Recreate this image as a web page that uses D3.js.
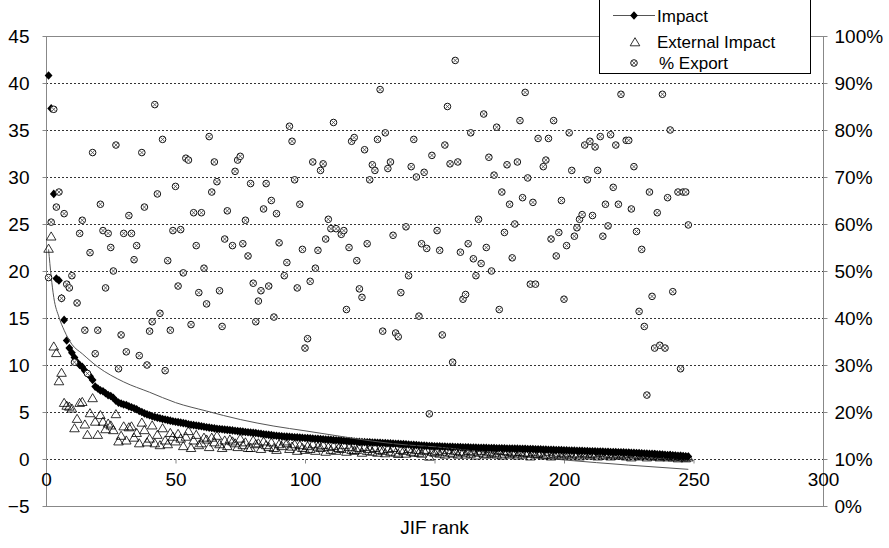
<!DOCTYPE html>
<html>
<head>
<meta charset="utf-8">
<script src="https://cdn.jsdelivr.net/npm/d3@7"></script>
<style>
body { margin: 0; background: #fff; }
text { font-family: "Liberation Sans", Arial, sans-serif; }
</style>
</head>
<body>
<svg id="chart" width="889" height="548"></svg>
<script>
// Impact per JIF rank (rank = position + 1)
var impact = [
40.8,37.3,28.2,19.2,19.0,17.1,14.8,12.6,11.8,11.3,
10.8,10.3,10.0,9.8,9.4,9.1,8.8,8.4,7.7,7.5,
7.3,7.2,7.0,6.8,6.7,6.5,6.2,6.0,5.9,5.8,
5.75,5.6,5.5,5.4,5.3,5.1,5.0,4.85,4.75,4.65,
4.55,4.47,4.4,4.33,4.26,4.2,4.14,4.08,4.02,3.97,
3.92,3.87,3.82,3.77,3.7,3.65,3.6,3.56,3.52,3.48,
3.43,3.38,3.34,3.3,3.26,3.22,3.19,3.16,3.13,3.1,
3.07,3.04,3.0,2.97,2.94,2.91,2.88,2.85,2.82,2.79,
2.76,2.72,2.68,2.64,2.6,2.57,2.54,2.5,2.47,2.44,
2.42,2.4,2.38,2.36,2.34,2.32,2.3,2.28,2.26,2.24,
2.22,2.2,2.18,2.16,2.14,2.12,2.1,2.08,2.06,2.04,
2.02,2.0,1.98,1.96,1.94,1.92,1.9,1.88,1.86,1.84,
1.82,1.81,1.79,1.78,1.77,1.76,1.75,1.73,1.72,1.7,
1.69,1.67,1.66,1.64,1.63,1.62,1.6,1.58,1.56,1.54,
1.52,1.5,1.48,1.46,1.44,1.42,1.4,1.38,1.37,1.36,
1.35,1.34,1.33,1.32,1.31,1.3,1.29,1.28,1.27,1.26,
1.25,1.24,1.24,1.23,1.22,1.21,1.2,1.2,1.19,1.18,
1.17,1.17,1.16,1.15,1.14,1.14,1.13,1.12,1.12,1.11,
1.1,1.1,1.09,1.08,1.08,1.07,1.06,1.05,1.04,1.03,
1.02,1.01,1.0,0.99,0.98,0.97,0.96,0.95,0.94,0.93,
0.92,0.91,0.9,0.89,0.88,0.87,0.86,0.85,0.84,0.83,
0.82,0.81,0.8,0.79,0.78,0.77,0.76,0.75,0.74,0.73,
0.72,0.71,0.7,0.69,0.68,0.66,0.65,0.63,0.62,0.6,
0.59,0.57,0.56,0.54,0.52,0.5,0.49,0.47,0.45,0.43,
0.41,0.39,0.37,0.35,0.33,0.31,0.29,0.26];

// External Impact per JIF rank
var externalImpact = [
22.4,23.7,12.0,11.3,8.3,9.2,6.0,5.7,5.6,5.4,
3.3,4.3,6.0,6.1,3.7,2.6,4.9,6.5,4.0,2.6,
4.7,4.0,3.2,3.8,3.6,3.1,4.8,1.9,2.5,3.5,
2.0,3.4,3.5,2.3,2.8,1.7,3.9,3.1,1.8,2.2,
3.6,1.7,2.6,1.5,3.3,2.0,1.6,2.8,2.4,1.9,
2.7,2.2,1.4,2.4,3.0,1.2,2.0,2.6,1.5,1.7,
2.3,2.1,1.3,2.3,1.8,2.5,1.6,1.2,2.0,1.4,
2.1,1.9,1.7,1.3,2.2,1.5,1.8,1.2,1.2,2.0,
1.6,1.7,1.1,1.9,1.5,1.3,1.8,1.2,1.0,1.6,
1.4,1.9,1.7,1.1,1.35,1.6,0.9,1.5,1.2,1.0,
1.4,1.1,1.6,0.9,1.35,1.2,1.5,0.8,1.3,1.0,
1.4,0.9,1.2,1.1,1.5,0.8,1.3,1.0,0.9,1.0,
1.2,0.7,1.3,0.9,1.1,0.8,1.2,0.7,1.0,0.9,
0.64,1.1,0.8,1.2,0.7,0.57,1.0,0.9,0.6,1.1,
0.8,0.7,1.0,0.7,0.6,0.9,1.0,0.28,0.8,0.7,
0.9,0.6,0.8,0.5,1.0,0.7,0.6,0.9,0.5,0.8,
0.7,0.5,0.9,0.6,0.8,0.4,0.7,0.9,0.6,0.5,
0.8,0.6,0.7,0.5,0.9,0.4,0.6,0.8,0.5,0.7,
0.6,0.4,0.8,0.5,0.7,0.6,0.3,0.8,0.5,0.6,
0.7,0.4,0.5,0.8,0.3,0.6,0.5,0.7,0.4,0.6,
0.5,0.7,0.4,0.6,0.5,0.3,0.7,0.5,0.6,0.4,
0.6,0.5,0.3,0.7,0.4,0.5,0.6,0.3,0.5,0.4,
0.6,0.4,0.5,0.3,0.6,0.2,0.4,0.5,0.3,0.4,
0.5,0.2,0.4,0.3,0.5,0.3,0.2,0.4,0.3,0.2,
0.4,0.2,0.3,0.1,0.3,0.2,0.1,0.2];

// % Export per JIF rank (secondary axis), null where not readable
var exportPct = [
48.6,60.4,84.4,63.6,66.8,44.2,62.2,47.2,46.4,49.0,
30.6,43.2,58.0,60.8,37.4,28.2,53.9,75.2,32.4,37.4,
64.2,58.6,46.4,58.0,55.0,50.0,76.8,29.2,36.4,58.0,
32.8,61.8,58.0,52.4,55.4,32.0,75.2,63.6,30.0,37.2,
39.2,85.4,66.4,41.0,78.0,28.8,52.2,37.4,58.6,68.0,
46.8,58.8,49.6,74.0,73.6,38.6,62.4,55.4,45.4,62.4,
50.6,43.0,78.6,66.8,73.2,69.0,45.8,38.2,56.8,62.8,
null,55.4,71.2,73.6,74.4,55.8,60.8,53.2,68.6,47.4,
39.2,43.6,45.8,63.2,68.6,46.8,65.0,40.2,62.2,56.0,
null,49.0,51.8,80.8,77.6,69.4,46.4,64.2,54.6,33.6,
35.6,47.8,73.2,50.6,54.4,71.4,72.8,56.8,61.0,59.0,
81.6,59.0,null,57.8,58.6,41.8,55.0,77.6,78.4,52.2,
46.2,44.4,75.8,55.8,69.4,72.6,71.4,78.0,88.6,37.2,
79.4,71.8,73.2,57.6,36.8,36.0,45.4,null,59.4,49.0,
72.2,78.0,70.0,40.4,55.8,71.0,54.8,19.6,74.6,null,
58.6,54.4,36.4,76.8,85.0,72.8,30.6,94.8,73.2,54.0,
44.0,45.0,55.8,79.4,52.6,49.0,61.0,51.6,83.4,55.0,
74.2,50.0,70.4,80.6,41.8,66.8,58.2,72.6,64.2,52.8,
60.0,73.2,82.0,65.6,88.0,69.8,47.2,64.6,47.2,78.2,
null,72.2,73.6,78.2,56.8,82.0,53.2,58.2,65.0,44.0,
55.4,79.4,71.4,57.4,59.2,61.0,62.0,76.8,69.4,77.6,
61.8,76.4,71.4,78.6,57.4,64.2,59.6,79.0,67.8,76.8,
64.2,87.6,null,77.8,77.8,63.2,72.2,58.4,41.4,54.6,
38.2,23.6,66.8,44.6,33.6,62.4,34.2,87.6,33.6,65.6,
80.0,45.6,null,66.8,29.2,66.8,66.8,59.8];

// thin curve, points
var trendRank = [1, 2, 3, 5, 7, 10, 14, 20, 30, 40, 50, 62, 75, 88, 100, 114, 126, 139, 150, 175, 200, 225, 248];
var trendValue = [22.3, 19.4, 17.2, 15.1, 13.7, 12.2, 11.2, 9.8, 8.2, 7.1, 6.0, 5.1, 4.2, 3.5, 3.0, 2.4, 1.9, 1.5, 1.3, 0.55, -0.1, -0.65, -1.1];

var xTicks = [0, 50, 100, 150, 200, 250, 300];
var leftTicks = [-5, 0, 5, 10, 15, 20, 25, 30, 35, 40, 45];
var rightTicks = [0, 10, 20, 30, 40, 50, 60, 70, 80, 90, 100];
var gridValues = [0, 5, 10, 15, 20, 25, 30, 35, 40];

var svg = d3.select("#chart");
var plotL = 46, plotR = 823, plotT = 36, plotB = 506;

var x = d3.scaleLinear().domain([0, 300]).range([plotL, plotR]);
var y = d3.scaleLinear().domain([-5, 45]).range([plotB, plotT]);
var yR = d3.scaleLinear().domain([0, 100]).range([plotB, plotT]);

// dashed gridlines
svg.append("g").selectAll("line")
	.data(gridValues)
	.enter().append("line")
	.attr("x1", plotL).attr("x2", plotR)
	.attr("y1", function(d) { return Math.round(y(d)) + 0.5; })
	.attr("y2", function(d) { return Math.round(y(d)) + 0.5; })
	.attr("stroke", "#333")
	.attr("stroke-dasharray", "2,2");

// plot frame
svg.append("rect")
	.attr("x", plotL + 0.5).attr("y", plotT + 0.5)
	.attr("width", plotR - plotL).attr("height", plotB - plotT)
	.attr("fill", "none")
	.attr("stroke", "#888");

function styleAxis(g) {
	g.select(".domain").remove();
	g.selectAll(".tick line").attr("stroke", "#888");
	g.selectAll(".tick text")
		.attr("fill", "#000")
		.style("font-size", "19px")
		.style("font-family", "'Liberation Sans', Arial, sans-serif");
}

svg.append("g")
	.attr("transform", "translate(" + (plotL + 0.5) + ",0)")
	.call(d3.axisLeft(y).tickValues(leftTicks).tickSize(4).tickPadding(13))
	.call(styleAxis);

svg.append("g")
	.attr("transform", "translate(" + (plotR + 0.5) + ",0)")
	.call(d3.axisRight(yR).tickValues(rightTicks).tickSize(4).tickPadding(7)
		.tickFormat(function(d) { return d + "%"; }))
	.call(styleAxis);

svg.append("g")
	.attr("transform", "translate(0," + (Math.round(y(0)) + 0.5) + ")")
	.call(d3.axisBottom(x).tickValues(xTicks).tickSize(4).tickPadding(9))
	.call(styleAxis);

svg.append("text")
	.attr("x", (plotL + plotR) / 2)
	.attr("y", 534)
	.attr("text-anchor", "middle")
	.style("font-size", "19px")
	.text("JIF rank");

var diamond = "M0,-4.3L3.9,0L0,4.3L-3.9,0Z",
	triangle = "M0,-4.3L4.8,3.8L-4.8,3.8Z";

// Impact
svg.append("g").selectAll("path")
	.data(impact)
	.enter().append("path")
	.attr("d", diamond)
	.attr("transform", function(d, i) { return "translate(" + x(i + 1) + "," + y(d) + ")"; })
	.attr("fill", "#000");

// thin curve
var line = d3.line()
	.x(function(d) { return x(d[0]); })
	.y(function(d) { return y(d[1]); })
	.curve(d3.curveMonotoneX);

svg.append("path")
	.datum(trendRank.map(function(r, i) { return [r, trendValue[i]]; }))
	.attr("d", line)
	.attr("fill", "none")
	.attr("stroke", "#555")
	.attr("stroke-width", 1);

// External Impact
svg.append("g").selectAll("path")
	.data(externalImpact)
	.enter().append("path")
	.attr("d", triangle)
	.attr("transform", function(d, i) { return "translate(" + x(i + 1) + "," + y(d) + ")"; })
	.attr("fill", "none")
	.attr("stroke", "#000")
	.attr("stroke-width", 0.8);

// % Export
function crossCircle(sel) {
	sel.append("circle").attr("r", 3.3)
		.attr("fill", "#fff").attr("stroke", "#111").attr("stroke-width", 1);
	sel.append("path").attr("d", "M-2.2,-2.2L2.2,2.2M-2.2,2.2L2.2,-2.2")
		.attr("stroke", "#444").attr("stroke-width", 0.8);
}

var exportPoints = exportPct
	.map(function(d, i) { return { rank: i + 1, pct: d }; })
	.filter(function(d) { return d.pct !== null; });

svg.append("g").selectAll("g")
	.data(exportPoints)
	.enter().append("g")
	.attr("transform", function(d) { return "translate(" + x(d.rank) + "," + yR(d.pct) + ")"; })
	.call(crossCircle);

// legend
var legend = svg.append("g");
legend.append("rect")
	.attr("x", 599.5).attr("y", -0.5)
	.attr("width", 211).attr("height", 74)
	.attr("fill", "#fff").attr("stroke", "#000");
legend.append("line")
	.attr("x1", 613).attr("x2", 655).attr("y1", 15.5).attr("y2", 15.5)
	.attr("stroke", "#555");
legend.append("path").attr("d", diamond)
	.attr("transform", "translate(634,15.5)").attr("fill", "#000");
legend.append("path").attr("d", triangle)
	.attr("transform", "translate(635,42)")
	.attr("fill", "none").attr("stroke", "#000").attr("stroke-width", 0.8);
legend.append("g").attr("transform", "translate(634,63)").call(crossCircle);

var legendLabels = ["Impact", "External Impact", "% Export"];
legend.selectAll("text.lbl")
	.data(legendLabels)
	.enter().append("text")
	.attr("class", "lbl")
	.attr("x", function(d, i) { return i === 2 ? 659 : 657; })
	.attr("y", function(d, i) { return [22, 48, 69][i]; })
	.style("font-size", "17px")
	.text(function(d) { return d; });
</script>
</body>
</html>
